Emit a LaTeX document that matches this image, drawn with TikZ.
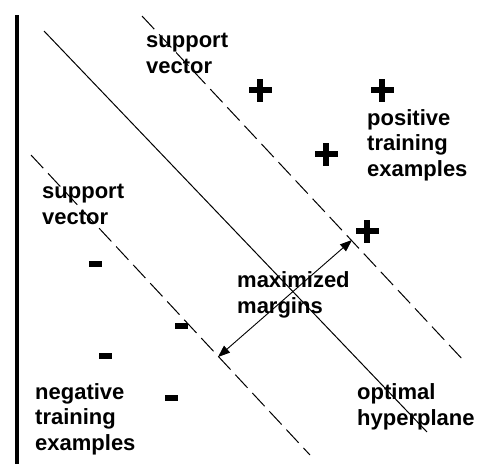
\documentclass[tikz,border=0pt]{standalone}
\usepackage{fontspec}
\setmainfont{Liberation Sans}
\usetikzlibrary{arrows.meta}
\tikzset{
  label/.style={font=\fontsize{22}{25.5}\selectfont\bfseries, align=left, inner sep=0pt, anchor=base west},
  hyper/.style={line width=1pt},
  margin/.style={line width=1pt, dash pattern=on 18pt off 7pt},
  axis/.style={line width=3.5pt},
  marrow/.style={line width=0.9pt, {Triangle[length=12pt,width=9pt]}-{Triangle[length=12pt,width=9pt]}},
  plus/.pic={\fill (-11.5,-2.7) rectangle (11.5,2.7); \fill (-2.7,-11.5) rectangle (2.7,11.5);},
  minus/.pic={\fill (-6.5,-3) rectangle (6.5,3);}
}
\begin{document}
\begin{tikzpicture}[x=1pt,y=-1pt]
\useasboundingbox (0,0) rectangle (477,464);
% axis
\coordinate (axT) at (17,15);
\coordinate (axB) at (17,464);
\draw[axis] (axT) -- (axB);
% lines
\coordinate (hA) at (44,31);
\coordinate (hB) at (427,432);
\coordinate (uA) at (142,16);
\coordinate (uB) at (465,362);
\coordinate (lA) at (31,155);
\coordinate (lB) at (310,455);
\draw[hyper] (hA) -- (hB);
\draw[margin] (uA) -- (uB);
\draw[margin] (lA) -- (lB);
% margin arrow
\coordinate (mL) at (218,357);
\coordinate (mU) at (352,240);
\draw[marrow] (mL) -- (mU);
% positives
\pic at (260,90) {plus};
\pic at (382,90) {plus};
\pic at (326,154) {plus};
\pic at (367,231) {plus};
% negatives
\pic at (95,264) {minus};
\pic at (181,326) {minus};
\pic at (105,356) {minus};
\pic at (171,398) {minus};
% labels (base anchor = baseline of last line)
\node[label] (sv1) at (146,73) {support\\vector};
\node[label] (sv2) at (42,224) {support\\vector};
\node[label] (pos) at (367,176) {positive\\training\\examples};
\node[label] (mm) at (237,313) {maximized\\margins};
\node[label] (neg) at (35,450) {negative\\training\\examples};
\node[label] (opt) at (357,425) {optimal\\hyperplane};
\end{tikzpicture}
\end{document}
